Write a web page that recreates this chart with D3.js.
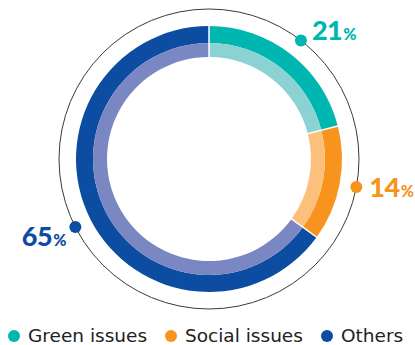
<!DOCTYPE html>
<html>
<head>
<meta charset="utf-8">
<script src="https://cdn.jsdelivr.net/npm/d3@7"></script>
<style>
  html, body { margin: 0; padding: 0; background: #fff; }
  svg { display: block; }
</style>
</head>
<body>
<svg id="chart" width="415" height="345"></svg>
<script>
// Share of topics
const categories = ["Green issues", "Social issues", "Others"];
const shares = [21, 14, 65];
const darkColors = ["#00b6b0", "#f7941d", "#0d4da1"];
const lightColors = ["#8ad3d2", "#fdc07c", "#7a87c3"];

// label placement relative to each dot: [dx, dy, anchor]
const labelOffsets = [[11, 0, "start"], [13, 10, "start"], [-9, 19, "end"]];
// legend layout
const legendX = [14, 171, 327];

const svg = d3.select("#chart");
const cx = 209, cy = 159;

const pie = d3.pie().sort(null).value(d => d)(shares);

const g = svg.append("g").attr("transform", `translate(${cx},${cy})`);

// thin guide ring carrying the label dots
g.append("circle")
  .attr("r", 150)
  .attr("fill", "none")
  .attr("stroke", "#3a3a3a")
  .attr("stroke-width", 1);

const outerArc = d3.arc().innerRadius(116).outerRadius(133);
const innerArc = d3.arc().innerRadius(102).outerRadius(116);

g.selectAll("path.outer").data(pie).join("path")
  .attr("class", "outer")
  .attr("d", outerArc)
  .attr("fill", (d, i) => darkColors[i]);

g.selectAll("path.inner").data(pie).join("path")
  .attr("class", "inner")
  .attr("d", innerArc)
  .attr("fill", (d, i) => lightColors[i]);

// white radial separators between slices
g.selectAll("line.sep").data(pie).join("line")
  .attr("class", "sep")
  .attr("x1", d => 101 * Math.sin(d.startAngle))
  .attr("y1", d => -101 * Math.cos(d.startAngle))
  .attr("x2", d => 134 * Math.sin(d.startAngle))
  .attr("y2", d => -134 * Math.cos(d.startAngle))
  .attr("stroke", "#fff")
  .attr("stroke-width", 1.5);

// dots on the guide ring at each slice's mid angle
const mid = d => (d.startAngle + d.endAngle) / 2;
const dotR = 150;
const dotX = d => dotR * Math.sin(mid(d));
const dotY = d => -dotR * Math.cos(mid(d));
g.selectAll("circle.dot").data(pie).join("circle")
  .attr("class", "dot")
  .attr("cx", dotX)
  .attr("cy", dotY)
  .attr("r", 6)
  .attr("fill", (d, i) => darkColors[i]);

// value labels
const labelFont = "Lato, 'Open Sans', sans-serif";
const labels = g.selectAll("text.val").data(pie).join("text")
  .attr("class", "val")
  .attr("font-family", labelFont)
  .attr("font-weight", 900)
  .attr("fill", (d, i) => darkColors[i])
  .attr("text-anchor", (d, i) => labelOffsets[i][2])
  .attr("x", (d, i) => dotX(d) + labelOffsets[i][0])
  .attr("y", (d, i) => dotY(d) + labelOffsets[i][1]);
labels.append("tspan").attr("font-size", 27).attr("letter-spacing", -0.5).text(d => d.data);
labels.append("tspan").attr("font-size", 16).attr("dx", 1).text("%");

// legend
const legend = svg.append("g");
categories.forEach((c, i) => {
  legend.append("circle")
    .attr("cx", legendX[i]).attr("cy", 336).attr("r", 6)
    .attr("fill", darkColors[i]);
  legend.append("text")
    .attr("x", legendX[i] + 14).attr("y", 342)
    .attr("font-family", "'DejaVu Sans', sans-serif")
    .attr("font-size", 18.5)
    .attr("fill", "#222")
    .text(c);
});
</script>
</body>
</html>
